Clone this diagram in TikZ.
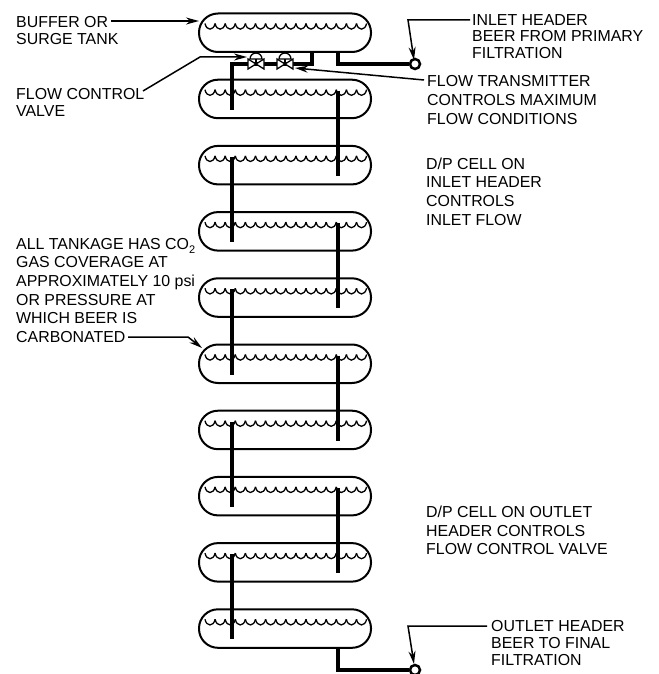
\documentclass[tikz,border=0pt]{standalone}
\usepackage{fontspec}
\setmainfont{Liberation Sans}
\usetikzlibrary{arrows.meta,positioning,calc}
\newcommand{\cotwo}{CO\raisebox{-4pt}{\fontsize{11}{12}\selectfont 2}}
\tikzset{tank/.style={draw=black,line width=2pt,rounded corners=19pt,minimum width=172pt,minimum height=38.5pt,inner sep=0pt},pipe/.style={line width=4pt},wave/.style={line width=1.3pt},arrow/.style={-{Stealth[length=13pt,width=7pt]},line width=1.5pt},lab/.style={anchor=north west,align=left,inner sep=0pt,font=\fontsize{15.9}{18.6}\selectfont},tightlab/.style={lab,font=\fontsize{15.9}{16.2}\selectfont},port/.style={circle,draw=black,fill=white,line width=2.5pt,minimum size=10pt,inner sep=0pt},valvebody/.style={draw=black,fill=white,line width=1.3pt}}
\begin{document}
\begin{tikzpicture}[x=1pt,y=-1pt]
\useasboundingbox (0,0) rectangle (658,674);
% tanks, each with its liquid level and the pipe points
\foreach \i in {1,...,10}{
\pgfmathsetmacro{\ytop}{13.5+66.2*(\i-1)}
\node[tank] (t\i) at (285,\ytop+19.25) {};
\coordinate (sl\i) at (232,\ytop+11);
\coordinate (sr\i) at (338,\ytop+11);
\coordinate (el\i) at (232,\ytop+30);
\coordinate (er\i) at (338,\ytop+30);
\foreach \k in {0,...,15}{
\draw[wave] (205+\k*10.1,\ytop+10) .. controls (206.5+\k*10.1,\ytop+17.5) and (213.5+\k*10.1,\ytop+17.5) .. (215.1+\k*10.1,\ytop+10);
}
}
% pipes from tank to tank
\foreach \a/\b/\s in {2/3/r,3/4/l,4/5/r,5/6/l,6/7/r,7/8/l,8/9/r,9/10/l}{
\draw[pipe] (s\s\a)--(e\s\b);
}
% inlet header
\node[port] (inlet) at (415,64) {};
\draw[pipe] (t1.south -| 338,0)--(338,64)--(inlet);
\node[port] (outlet) at (415,670) {};
\draw[pipe] (t10.south -| 338,0)--(338,670)--(outlet);
% valve train
\coordinate (v1) at (256,64);
\coordinate (v2) at (285,64);
\draw[pipe] (t1.south -| 312,0)--(312,64)--(v2)--(v1)--(232,64)--(el2);
\foreach \v in {v1,v2}{
\draw[valvebody] ($(\v)+(-8,-5)$)--($(\v)+(8,5)$)--($(\v)+(8,-5)$)--($(\v)+(-8,5)$)--cycle;
\draw[line width=1.3pt] (\v)--($(\v)+(0,-5)$);
\draw[valvebody] ($(\v)+(-6,-5)$) arc[start angle=180,end angle=360,radius=6]--cycle;
}
% labels
\node[tightlab] (buffer) at (16,16.5) {BUFFER OR\\SURGE TANK};
\node[tightlab] (fcv) at (16,88.5) {FLOW CONTROL\\VALVE};
\node[tightlab] (inhead) at (472,14.5) {INLET HEADER\\BEER FROM PRIMARY\\FILTRATION};
\node[lab] (ft) at (427,75.5) {FLOW TRANSMITTER\\CONTROLS MAXIMUM\\FLOW CONDITIONS};
\node[lab] (dpin) at (426,157.5) {D/P CELL ON\\INLET HEADER\\CONTROLS\\INLET FLOW};
\node[lab] (gas) at (16,238) {ALL TANKAGE HAS \cotwo\\GAS COVERAGE AT\\APPROXIMATELY 10 psi\\OR PRESSURE AT\\WHICH BEER IS\\CARBONATED};
\node[lab] (dpout) at (426,506) {D/P CELL ON OUTLET\\HEADER CONTROLS\\FLOW CONTROL VALVE};
\node[tightlab,font=\fontsize{15.9}{17}\selectfont] (outhead) at (491,620.5) {OUTLET HEADER\\BEER TO FINAL\\FILTRATION};
% leaders
\draw[arrow] (111,21)--(199,21);
\draw[arrow] (143,91)--(200,57)--(247,57);
\draw[arrow] (470,20)--(408,20)--(414,60);
\draw[arrow] (424,80)--(295,68);
\draw[arrow] (128,337)--(188,337)--(202,348);
\draw[arrow] (487,626)--(408,626)--(414,664);
\end{tikzpicture}
\end{document}
